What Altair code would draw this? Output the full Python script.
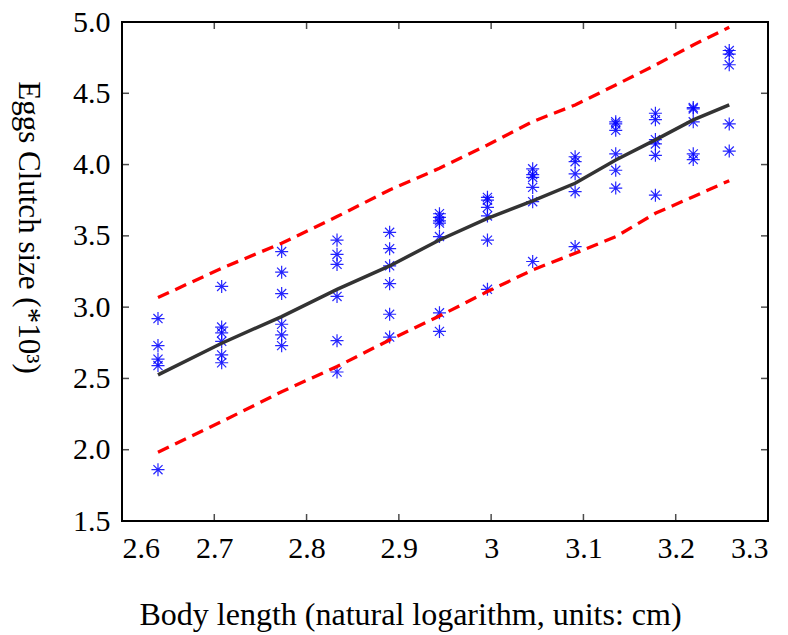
import altair as alt
import pandas as pd

body_ln = [2.639, 2.708, 2.773, 2.833, 2.890, 2.944, 2.996,
           3.045, 3.091, 3.135, 3.178, 3.219, 3.258]

obs = [
    [2.92, 2.73, 2.635, 2.59, 1.86],
    [3.145, 2.86, 2.82, 2.76, 2.665, 2.61],
    [3.39, 3.245, 3.095, 2.88, 2.805, 2.73],
    [3.47, 3.37, 3.30, 3.075, 2.765, 2.545],
    [3.525, 3.41, 3.29, 3.165, 2.95, 2.79],
    [3.655, 3.63, 3.605, 3.59, 3.495, 2.96, 2.83],
    [3.77, 3.75, 3.70, 3.64, 3.47, 3.125],
    [3.97, 3.93, 3.91, 3.84, 3.74, 3.32],
    [4.055, 4.02, 3.935, 3.81, 3.425],
    [4.30, 4.285, 4.24, 4.075, 3.96, 3.835],
    [4.36, 4.315, 4.175, 4.145, 4.065, 3.785],
    [4.40, 4.39, 4.30, 4.075, 4.035],
    [4.80, 4.775, 4.70, 4.285, 4.095],
]

fit = [2.525, 2.747, 2.934, 3.125, 3.289, 3.471, 3.623,
       3.746, 3.869, 4.032, 4.173, 4.313, 4.418]
upper = [3.067, 3.273, 3.448, 3.635, 3.822, 3.974, 4.137,
         4.301, 4.418, 4.558, 4.698, 4.839, 4.963]
lower = [1.982, 2.197, 2.407, 2.583, 2.770, 2.938, 3.109,
         3.261, 3.378, 3.494, 3.658, 3.775, 3.887]

x_ticks = [2.6, 2.7, 2.8, 2.9, 3.0, 3.1, 3.2, 3.3]
y_ticks = [1.5, 2.0, 2.5, 3.0, 3.5, 4.0, 4.5, 5.0]

W, H, TL = 646, 499, 7

pts = pd.DataFrame(
    [{"x": body_ln[i], "y": v} for i, col in enumerate(obs) for v in col]
)
fit_df = pd.DataFrame({"x": body_ln, "y": fit})
band_df = pd.concat([
    pd.DataFrame({"x": body_ln, "y": upper, "band": "upper"}),
    pd.DataFrame({"x": body_ln, "y": lower, "band": "lower"}),
])
xt_df = pd.DataFrame({"x": x_ticks})
yt_df = pd.DataFrame({"y": y_ticks})

FONT = "Liberation Serif"
xs = alt.Scale(domain=[2.6, 3.3], nice=False, zero=False)
ys = alt.Scale(domain=[1.5, 5.0], nice=False, zero=False)

asterisk = "M-1,0H1M0,-1V1M-0.7,-0.7L0.7,0.7M-0.7,0.7L0.7,-0.7"

points = alt.Chart(pts).mark_point(
    shape=asterisk, filled=False, size=170, stroke="#0000ff", strokeWidth=1.2, opacity=0.85
).encode(
    x=alt.X("x:Q", scale=xs, axis=alt.Axis(
        orient="bottom", values=x_ticks, format="~g", ticks=False, domain=False, grid=False,
        labelFont=FONT, labelFontSize=30, labelColor="black", labelPadding=12,
        title="Body length (natural logarithm, units: cm)",
        titleFont=FONT, titleFontSize=32, titleFontWeight="normal", titleColor="black",
        titleX=288, titleY=103, titleAnchor="middle", titleAlign="center",
        titleBaseline="alphabetic")),
    y=alt.Y("y:Q", scale=ys, axis=alt.Axis(
        orient="left", values=y_ticks, format=".1f", ticks=False, domain=False, grid=False,
        labelFont=FONT, labelFontSize=30, labelColor="black", labelPadding=12,
        title="Eggs Clutch size (*10³)",
        titleFont=FONT, titleFontSize=31, titleFontWeight="normal", titleColor="black",
        titleAngle=90, titleX=-95, titleY=205, titleAlign="center", titleBaseline="middle")),
)

fit_line = alt.Chart(fit_df).mark_line(color="#333333", strokeWidth=3.5).encode(
    x=alt.X("x:Q", scale=xs),
    y=alt.Y("y:Q", scale=ys),
)

bands = alt.Chart(band_df).mark_line(color="#ff0000", strokeWidth=3.3, strokeDash=[12, 7]).encode(
    x=alt.X("x:Q", scale=xs),
    y=alt.Y("y:Q", scale=ys),
    detail="band:N",
)

# inward tick marks on all four sides of the box (outer half clipped away)
tick_kw = dict(size=2 * TL, thickness=1.5, color="black", clip=True)
ticks_bottom = alt.Chart(xt_df).mark_tick(orient="vertical", **tick_kw).encode(
    x=alt.X("x:Q", scale=xs), y=alt.value(H))
ticks_top = alt.Chart(xt_df).mark_tick(orient="vertical", **tick_kw).encode(
    x=alt.X("x:Q", scale=xs), y=alt.value(0))
ticks_left = alt.Chart(yt_df).mark_tick(orient="horizontal", **tick_kw).encode(
    y=alt.Y("y:Q", scale=ys), x=alt.value(0))
ticks_right = alt.Chart(yt_df).mark_tick(orient="horizontal", **tick_kw).encode(
    y=alt.Y("y:Q", scale=ys), x=alt.value(W))

chart = alt.layer(
    points, fit_line, bands, ticks_bottom, ticks_top, ticks_left, ticks_right
).properties(
    width=W, height=H,
    padding={"left": 122, "top": 22, "right": 20, "bottom": 114},
    autosize=alt.AutoSizeParams(type="none"),
    background="white",
).configure_view(stroke="black", strokeWidth=2)

chart.save("out.html", embed_options={"renderer": "svg", "actions": False})
